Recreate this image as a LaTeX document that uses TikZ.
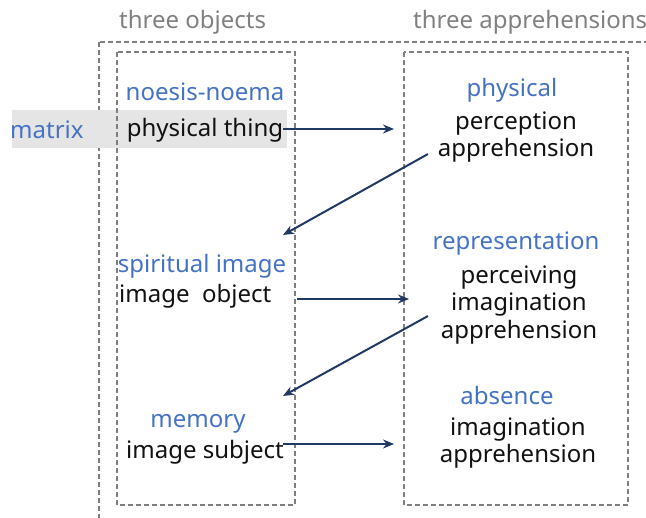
\documentclass[tikz,border=0pt]{standalone}
\usepackage{fontspec}
\setmainfont{Noto Sans}
\usetikzlibrary{arrows.meta}
\definecolor{headblue}{HTML}{4472C4}
\definecolor{capgray}{HTML}{808080}
\definecolor{boxgray}{HTML}{7F7F7F}
\definecolor{bandgray}{HTML}{E6E5E6}
\definecolor{navy}{HTML}{203864}
\definecolor{ink}{HTML}{111111}
\tikzset{
  dashbox/.style={draw=boxgray, dash pattern=on 5pt off 3pt, line width=1.6pt},
  caption/.style={text=capgray, font=\fontsize{24}{28}\selectfont, inner sep=0pt},
  head/.style={text=headblue, font=\fontsize{24}{28}\selectfont, inner sep=0pt},
  body/.style={text=ink, font=\fontsize{24}{27.5}\selectfont, inner sep=0pt, align=center},
  link/.style={draw=navy, line width=2pt, -{Stealth[length=11pt,width=9pt]}}
}
\begin{document}
\begin{tikzpicture}[x=1pt,y=-1pt]
\useasboundingbox (0,0) rectangle (646,518);
\begin{scope}
  \clip (0,0) rectangle (646,518);
  % outer frame running off the page
  \draw[dashbox] (99,42) rectangle (680,560);
  % highlight band behind the first row
  \fill[bandgray] (12,110) rectangle (287,148);
  % column frames
  \draw[dashbox] (117,52) rectangle (295,505);
  \draw[dashbox] (404,52) rectangle (628,505);
  % column captions
  \node[caption, anchor=west] (capL) at (119,22) {three objects};
  \node[caption, anchor=west] (capR) at (413,22) {three apprehensions};
\end{scope}

% left column: objects
\node[head, anchor=west] (matrix) at (10,130) {matrix};
\node[head] (noesis) at (205,92) {noesis-noema};
\node[body] (pthing) at (205,130) {physical thing};
\node[head] (spirit) at (202,266) {spiritual image};
\node[body, anchor=west] (iobj) at (119,296) {image\ \ object};
\node[head] (memory) at (198,424) {memory};
\node[body] (isubj) at (205,452) {image subject};

% right column: apprehensions
\node[head] (phys) at (512,90) {physical};
\node[body] (perc) at (516,137) {perception\\apprehension};
\node[head] (repr) at (516,244) {representation};
\node[body] (pimag) at (519,305) {perceiving\\imagination\\apprehension};
\node[head] (absence) at (507,396) {absence};
\node[body] (imag) at (518,443) {imagination\\apprehension};

% arrow end points
\coordinate (a1s) at (283,129);
\coordinate (a1e) at (394,129);
\coordinate (a2s) at (428,154);
\coordinate (a2e) at (283,235);
\coordinate (a3s) at (297,299);
\coordinate (a3e) at (409,299);
\coordinate (a4s) at (428,316);
\coordinate (a4e) at (283,396);
\coordinate (a5s) at (283,444);
\coordinate (a5e) at (394,444);

\draw[link] (a1s) -- (a1e);
\draw[link] (a2s) -- (a2e);
\draw[link] (a3s) -- (a3e);
\draw[link] (a4s) -- (a4e);
\draw[link] (a5s) -- (a5e);
\end{tikzpicture}
\end{document}
